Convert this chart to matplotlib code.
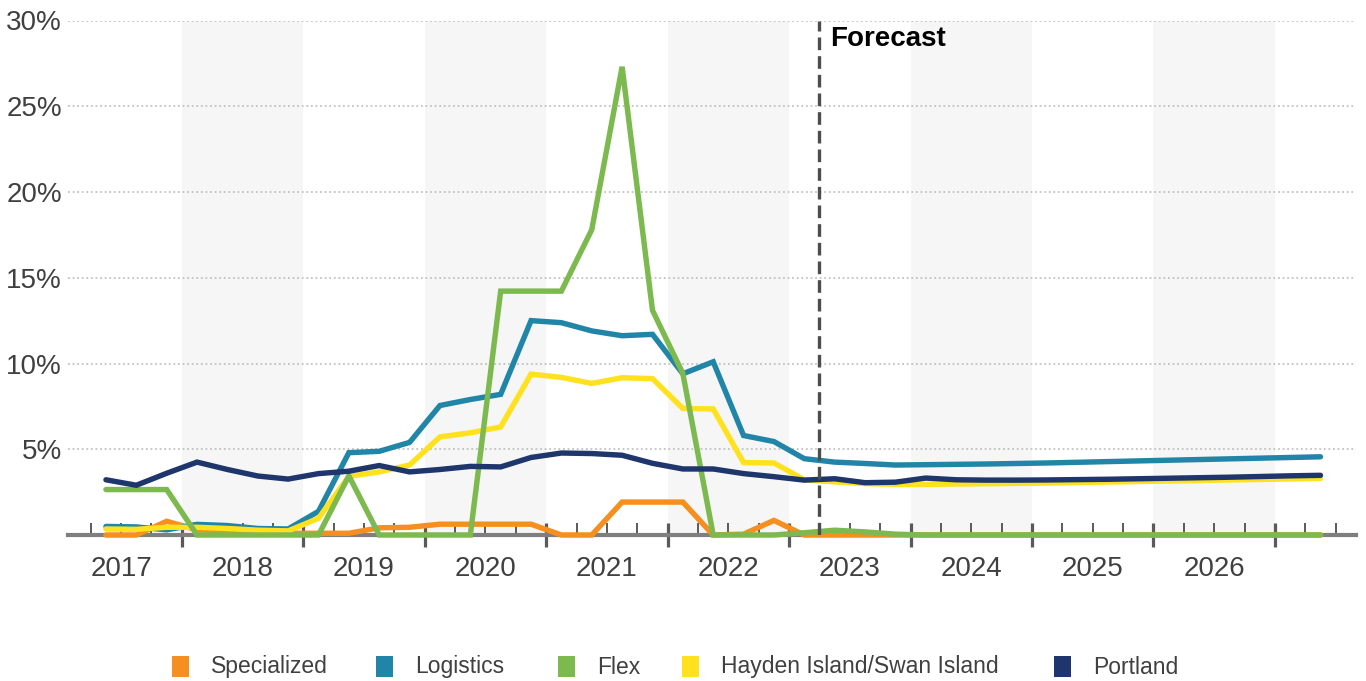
import numpy as np
import matplotlib
matplotlib.use("Agg")
import matplotlib.pyplot as plt
from matplotlib.patches import Rectangle

plt.rcParams['font.family'] = ['Liberation Sans', 'DejaVu Sans']

# Year labels of the quarterly category axis (four quarter slots per year)
years = [2017, 2018, 2019, 2020, 2021, 2022, 2023, 2024, 2025, 2026]
quarters_per_year = 4
first_slot = -1          # the 2017 band starts one slot before the first data point
forecast_start = 24      # index of the first forecast quarter

# Vacancy rate, % (quarterly)
specialized = [0.0, 0.0, 0.8, 0.3, 0.25, 0.18, 0.1, 0.1, 0.1, 0.42, 0.45, 0.63, 0.63, 0.63, 0.63,
               0.0, 0.0, 1.92, 1.92, 1.92, 0.0, 0.05, 0.85, 0.0, 0.0, 0.0, 0.0, 0.0, 0.0, 0.0,
               0.0, 0.0, 0.0, 0.0, 0.0, 0.0, 0.0, 0.0, 0.0, 0.0, 0.0]
logistics = [0.5, 0.47, 0.3, 0.62, 0.55, 0.38, 0.35, 1.38, 4.8, 4.88, 5.4, 7.55, 7.9, 8.2, 12.5,
             12.38, 11.9, 11.62, 11.7, 9.4, 10.1, 5.8, 5.45, 4.45, 4.25, 4.17, 4.08, 4.1, 4.12,
             4.14, 4.17, 4.2, 4.24, 4.28, 4.32, 4.36, 4.4, 4.44, 4.48, 4.52, 4.56]
flex = [2.65, 2.65, 2.65, 0.0, 0.0, 0.0, 0.0, 0.0, 3.45, 0.0, 0.0, 0.0, 0.0, 14.22, 14.22,
        14.22, 17.8, 27.3, 13.1, 9.42, 0.0, 0.0, 0.0, 0.13, 0.28, 0.18, 0.05, 0.0, 0.0, 0.0,
        0.0, 0.0, 0.0, 0.0, 0.0, 0.0, 0.0, 0.0, 0.0, 0.0, 0.0]
hayden_swan = [0.35, 0.33, 0.45, 0.45, 0.38, 0.28, 0.24, 0.97, 3.42, 3.68, 4.08, 5.72, 5.96, 6.3,
               9.38, 9.19, 8.84, 9.17, 9.12, 7.38, 7.35, 4.22, 4.2, 3.22, 3.1, 3.0, 2.95, 2.95,
               2.97, 2.99, 3.01, 3.03, 3.06, 3.09, 3.12, 3.15, 3.18, 3.21, 3.24, 3.27, 3.3]
portland = [3.22, 2.9, 3.6, 4.25, 3.82, 3.44, 3.26, 3.58, 3.72, 4.05, 3.68, 3.82, 4.0, 3.97,
            4.52, 4.78, 4.75, 4.65, 4.18, 3.85, 3.85, 3.58, 3.4, 3.2, 3.28, 3.05, 3.08, 3.32,
            3.22, 3.2, 3.2, 3.21, 3.23, 3.25, 3.28, 3.31, 3.34, 3.37, 3.41, 3.45, 3.48]

y_ticks = [5, 10, 15, 20, 25, 30]

series = [
    ("Specialized", specialized, "#F58F1F", 3),
    ("Logistics", logistics, "#2185A8", 4),
    ("Flex", flex, "#7CB94E", 6),
    ("Hayden Island/Swan Island", hayden_swan, "#FFE11E", 5),
    ("Portland", portland, "#1E366C", 7),
]

W, H = 1366, 681
fig = plt.figure(figsize=(W / 100, H / 100), dpi=100)
ax = fig.add_axes([68 / W, 1 - 535 / H, (1356 - 68) / W, (535 - 20.5) / H])

n = len(portland)
x = np.arange(n)
ax.set_xlim(-1.25, 41.17)
ax.set_ylim(0, 30)

# Alternating shaded year bands
for k, yr in enumerate(years):
    start = first_slot + k * quarters_per_year - 0.5
    if k % 2 == 1:
        ax.axvspan(start, start + quarters_per_year, color="#F6F6F6", lw=0, zorder=0)

# Dotted horizontal gridlines
for v in y_ticks:
    ax.axhline(v, color="#B8B8B8", lw=1.1, ls=(0, (1.2, 1.8)), zorder=1)

for name, vals, col, z in series:
    ax.plot(x, vals, color=col, lw=3.9, solid_joinstyle="miter", solid_capstyle="round",
            zorder=z, clip_on=False)

# Forecast divider
ax.axvline(forecast_start - 0.5, color="#4D4D4D", lw=2.4, ls=(0, (3.8, 1.8)), zorder=8)
ax.annotate("Forecast", xy=(forecast_start - 0.5, 1), xycoords=("data", "axes fraction"),
            xytext=(11, -18), textcoords="offset pixels", ha="left", va="center",
            fontsize=20, fontweight="bold", color="black")

# Spines
for s in ["left", "right", "top"]:
    ax.spines[s].set_visible(False)
ax.spines["bottom"].set_color("#7F7F7F")
ax.spines["bottom"].set_linewidth(3)
ax.spines["bottom"].set_zorder(2.5)

# Year boundary ticks (major) and quarter ticks (minor)
year_edges = [first_slot + k * quarters_per_year - 0.5 + quarters_per_year for k in range(len(years))]
quarter_edges = [m - 0.5 for m in range(0, n + 1) if (m - 0.5) not in year_edges]
ax.set_xticks(year_edges)
ax.set_xticks(quarter_edges, minor=True)
ax.set_xticklabels([])
ax.tick_params(axis="x", which="major", direction="inout", length=17, width=2.3, color="#5A5A5A")
ax.tick_params(axis="x", which="minor", direction="in", length=8.5, width=1.4, color="#5A5A5A")

for k, yr in enumerate(years):
    center = first_slot + k * quarters_per_year + (quarters_per_year - 1) / 2
    ax.annotate(str(yr), xy=(center, 0), xycoords=("data", "axes fraction"),
                xytext=(0, -41), textcoords="offset pixels", ha="center", va="baseline",
                fontsize=20, color="#404040")

ax.set_yticks(y_ticks)
ax.set_yticklabels([f"{v}%" for v in y_ticks])
ax.tick_params(axis="y", length=0, pad=4.5, labelsize=20, labelcolor="#404040")

# Legend row
legend_text_x = [211, 415, 597, 721, 1093]
legend_box_mid = 666.5
legend_baseline = 673.5
for (name, vals, col, z), tx in zip(series, legend_text_x):
    fig.add_artist(Rectangle(((tx - 39) / W, 1 - (legend_box_mid + 10.5) / H), 17 / W, 21 / H,
                             transform=fig.transFigure, facecolor=col, edgecolor="none"))
    fig.text(tx / W, 1 - legend_baseline / H, name, ha="left", va="baseline", fontsize=16.5,
             color="#404040")

fig.savefig("out.png", dpi=100)
